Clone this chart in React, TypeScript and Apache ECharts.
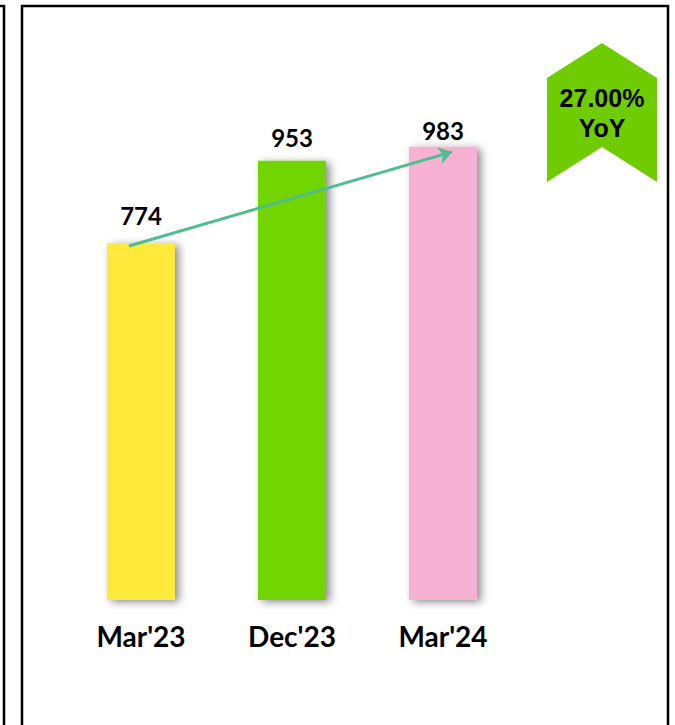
import React, { useEffect, useRef } from "react";
import * as echarts from "echarts";

const categories = ["Mar'23", "Dec'23", "Mar'24"];
const values = [774, 953, 983];
const barColors = ["#FFE93A", "#72D500", "#F7B1D3"];
const labelDistances = [16, 11, 4];
// arrow endpoints in data space: [category position, value]
const arrowStart = [-0.08, 768];
const arrowEnd = [2.06, 972];
const badgeLines = ["27.00%", "YoY"];

export default function App() {
  const ref = useRef<HTMLDivElement>(null);
  useEffect(() => {
    if (!ref.current) return;
    const chart = echarts.init(ref.current, null, { renderer: "svg" });
    chart.setOption({
      animation: false,
      backgroundColor: "#ffffff",
      grid: { left: 65.5, width: 453, top: 139, bottom: 125, containLabel: false },
      xAxis: [
        {
          type: "category",
          data: categories,
          axisLine: { show: false },
          axisTick: { show: false },
          axisLabel: {
            margin: 22,
            fontFamily: "Lato",
            fontWeight: "bold",
            fontSize: 28,
            color: "#000",
          },
        },
        { type: "value", min: -0.5, max: 2.5, show: false },
      ],
      yAxis: { type: "value", min: 0, max: 1000, show: false },
      series: [
        {
          type: "bar",
          barWidth: 68,
          data: values.map((v, i) => ({
            value: v,
            itemStyle: { color: barColors[i] },
            label: { distance: labelDistances[i] },
          })),
          itemStyle: {
            shadowColor: "rgba(0,0,0,0.45)",
            shadowBlur: 8,
            shadowOffsetX: 4,
            shadowOffsetY: 2,
          },
          label: {
            show: true,
            position: "top",
            fontFamily: "Lato",
            fontWeight: "bold",
            fontSize: 24,
            color: "#000",
          },
        },
        {
          type: "lines",
          coordinateSystem: "cartesian2d",
          xAxisIndex: 1,
          yAxisIndex: 0,
          symbol: ["none", "arrow"],
          symbolSize: 13,
          lineStyle: { color: "#4CBF8E", width: 3, opacity: 1 },
          data: [{ coords: [arrowStart, arrowEnd] }],
          z: 5,
        },
      ],
      graphic: [
        {
          type: "polyline",
          shape: { points: [[0, 6], [4, 6], [4, 740]] },
          style: { stroke: "#000", lineWidth: 2.5, fill: null },
        },
        {
          type: "rect",
          shape: { x: 22, y: 6, width: 646, height: 760 },
          style: { stroke: "#000", lineWidth: 2.5, fill: null },
        },
        {
          type: "polygon",
          shape: {
            points: [
              [547, 78],
              [602, 43],
              [657, 78],
              [657, 182],
              [602, 147],
              [547, 182],
            ],
          },
          style: { fill: "#6ECC00" },
        },
        {
          type: "text",
          x: 602,
          y: 98,
          style: {
            text: badgeLines[0],
            fontFamily: "Liberation Sans",
            fontWeight: "bold",
            fontSize: 25,
            fill: "#000",
            align: "center",
            verticalAlign: "middle",
          },
        },
        {
          type: "text",
          x: 602,
          y: 128,
          style: {
            text: badgeLines[1],
            fontFamily: "Liberation Sans",
            fontWeight: "bold",
            fontSize: 25,
            fill: "#000",
            align: "center",
            verticalAlign: "middle",
          },
        },
      ],
    });
    return () => chart.dispose();
  }, []);
  return (
    <div
      ref={ref}
      style={{ position: "fixed", left: 0, top: 0, width: 675, height: 725 }}
    />
  );
}
